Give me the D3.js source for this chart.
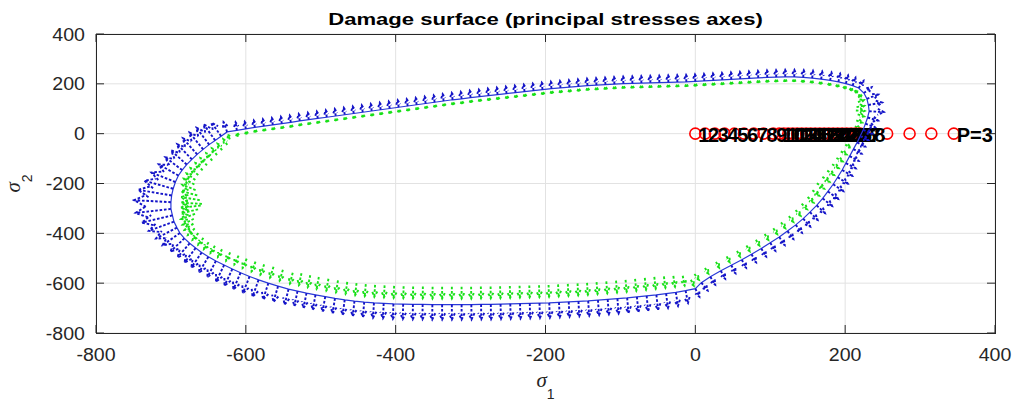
<!DOCTYPE html>
<html><head><meta charset="utf-8">
<script src="https://cdn.jsdelivr.net/npm/d3@7"></script>
<style>body{margin:0;background:#fff}text{font-family:"Liberation Sans",Arial,Helvetica,sans-serif}</style>
</head><body>
<svg id="chart" width="1015" height="403"></svg>
<script>
// ---------------- data ----------------
const xTicks = [-800,-600,-400,-200,0,200,400];
const yTicks = [-800,-600,-400,-200,0,200,400];
const titleText = "Damage surface (principal stresses axes)";

// damage surface points (sigma1, sigma2), clockwise from upper-left
const surfaceS1 = [
 -625,-612,-600,-588,-576,-564,-552,-540,-528,-516,-504,-492,-480,-468,-456,-444,-432,-420,-408,-396,-384,-372,-360,-348,-336,-324,-312,-300,-288,-276,-264,-252,-240,-228,-216,-204,-192,-180,-168,-156,-144,-132,-120,-108,-96,-84,-72,-60,-48,-36,-24,-12,0,12,24,36,48,60,72,84,96,108,120,132,
 144,156,168,180,191,201,210,218,225,229,231,232,230,227,224,220,216,211,206,201,196,190,184,
 177,170,162,153,144,134,123,112,100,88,75,62,48,34,20,8,0,
 -13,-26,-39,-52,-65,-78,-91,-104,-117,-130,-143,-156,-169,-182,-195,-208,-221,-234,-247,-260,-273,-286,-299,-312,-325,-338,-351,-364,-377,-390,-403,-416,-429,-442,-455,-468,-481,-494,-507,-519,-531,
 -543,-557,-570,-583,-595,-607,-618,-629,-640,-650,-659,-667,-675,-682,-688,-692,-696,-698,-700,-700,-699,-697,-694,
 -690,-685,-679,-672,-665,-657,-649,-641,-633
];
const surfaceS2 = [
 7,13,19,25,30,35,40,45,51,56,61,66,71,76,81,86,91,96,101,106,111,116,121,126,131,136,140,145,149,153,157,161,165,169,173,177,181,184,187,190,193,195,197,199,201,202,203,204,205,206,207,208,210,212,214,216,218,220,222,224,226,227,228,228,
 226,223,219,214,208,201,193,183,163,140,115,90,65,40,15,-10,-35,-62,-90,-118,-146,-175,-203,
 -232,-260,-288,-315,-341,-366,-391,-415,-438,-461,-484,-506,-528,-550,-574,-598,-622,
 -630,-637,-642,-647,-651,-655,-659,-662,-665,-668,-671,-673,-675,-677,-679,-680,-681,-682,-683,-684,-685,-685,-686,-686,-686,-686,-686,-685,-685,-684,-683,-681,-679,-676,-672,-667,-661,-654,-647,-640,-632,
 -624,-612,-600,-587,-573,-558,-543,-527,-511,-494,-477,-459,-440,-420,-399,-377,-353,-328,-302,-275,-248,-221,-194,
 -168,-146,-124,-103,-83,-63,-44,-27,-10
];
// quiver magnitudes (stress units) at each surface point
const blueMag = [
 40,33,29,
 28,28,28,28,28,28,28,28,28,28,
 28,28,28,28,28,28,28,28,28,28,
 28,28,28,28,28,28,28,28,28,28,
 28,28,28,28,28,28,28,28,28,28,
 28,28,28,28,28,28,28,28,28,28,
 28,28,28,28,28,28,28,28,28,28,
 28,
 29,30,31,32,33,33,32,30,26,23,21,20,19,19,19,19,20,21,23,25,27,29,31,
 33,33,33,33,33,33,33,33,33,33,33,33,33,33,33,33,33,
 50,55,58,
 60,60,60,60,60,60,60,60,60,60,
 60,60,60,60,60,60,60,60,60,60,
 60,60,60,60,60,60,60,60,60,60,
 60,60,60,60,60,60,60,60,
 62,64,66,68,68,68,68,68,66,64,62,60,58,56,54,52,50,50,50,50,50,50,50,
 52,56,60,64,68,70,70,66,56
];
const greenMag = [
 20,17,15,
 14,14,14,14,14,14,14,14,14,14,
 14,14,14,14,14,14,14,14,14,14,
 14,14,14,14,14,14,14,14,14,14,
 14,14,14,14,14,14,14,14,14,14,
 14,14,14,14,14,14,14,14,14,14,
 14,14,14,14,14,14,14,14,14,14,
 14,
 14,14,15,15,15,15,15,14,13,12,12,12,12,12,12,12,13,14,15,16,18,20,22,
 24,24,24,24,24,24,24,24,24,24,24,24,24,24,24,24,24,
 40,44,46,
 48,48,48,48,48,48,48,48,48,48,
 48,48,48,48,48,48,48,48,48,48,
 48,48,48,48,48,48,48,48,48,48,
 48,48,48,48,48,48,48,48,
 44,44,44,42,40,38,36,34,32,30,28,28,28,28,28,28,28,28,28,28,28,28,28,
 28,29,30,31,31,31,29,27,24
];
// load path points
const pathS1 = [0,13,26,39,52,65,78,91,104,112,118,124,130,136,142,148,154,160,166,172,178,184,190,196,202,208,214,220,256,286,315,345];
const pathS2 = [0,0,0,0,0,0,0,0,0,0,0,0,0,0,0,0,0,0,0,0,0,0,0,0,0,0,0,0,0,0,0,0];
const pathLabels = ["1","2","3","4","5","6","7","8","9","10","11","12","13","14","15","16","17","18","19","20","21","22","23","24","25","26","27","28","","","","P=3"];

// ---------------- drawing ----------------
const svg = d3.select("#chart");
const L = 96, R = 995, T = 34, B = 333;
const x = d3.scaleLinear().domain([-800,400]).range([L,R]);
const y = d3.scaleLinear().domain([-800,400]).range([B,T]);
const axisCol = "#262626";

function stext(g, tx, ty, str, size, opts={}) {
  return g.append("text")
    .attr("transform", `translate(${tx},${ty}) scale(${opts.sx||1},1)`)
    .attr("text-anchor", opts.anchor||"middle")
    .attr("font-size", size)
    .attr("font-weight", opts.weight||"normal")
    .attr("fill", opts.fill||axisCol)
    .text(str);
}

// grid
const grid = svg.append("g").attr("stroke","#e2e2e2").attr("stroke-width",1);
xTicks.forEach(t=>grid.append("line").attr("x1",x(t)).attr("x2",x(t)).attr("y1",T).attr("y2",B));
yTicks.forEach(t=>grid.append("line").attr("y1",y(t)).attr("y2",y(t)).attr("x1",L).attr("x2",R));

// quiver geometry
const kx = (x.domain()[1]-x.domain()[0])/(R-L);
const ky = (y.domain()[1]-y.domain()[0])/(B-T);
const pts = surfaceS1.map((s,i)=>[x(s), y(surfaceS2[i])]);
const n = pts.length;
const cx = d3.mean(pts,p=>p[0]), cy = d3.mean(pts,p=>p[1]);
function dataDir(i){
  const a = pts[(i-1+n)%n], b = pts[(i+1)%n];
  let tx=b[0]-a[0], ty=b[1]-a[1];
  const l=Math.hypot(tx,ty);
  let nx=ty/l, ny=-tx/l;
  if ((pts[i][0]-cx)*nx + (pts[i][1]-cy)*ny < 0) { nx=-nx; ny=-ny; }
  let du = nx*kx, dv = -ny*ky;
  const m = Math.hypot(du,dv);
  return [du/m, dv/m];
}
function arrowPath(x0,y0,x1,y1){
  const dx=x1-x0, dy=y1-y0, len=Math.hypot(dx,dy);
  if (len<0.5) return "";
  const ux=dx/len, uy=dy/len;
  const h = 0.3*len+2.5, a = 0.45;
  const c=Math.cos(a), s=Math.sin(a);
  const h1x = x1 - h*(ux*c - uy*s), h1y = y1 - h*(uy*c + ux*s);
  const h2x = x1 - h*(ux*c + uy*s), h2y = y1 - h*(uy*c - ux*s);
  return `M${x0},${y0}L${x1},${y1}M${h1x},${h1y}L${x1},${y1}L${h2x},${h2y}`;
}
const dirs = d3.range(n).map(dataDir);

// green quiver (inside the surface)
svg.append("g").attr("fill","none").attr("stroke","#18e018").attr("stroke-width",1.9)
  .attr("stroke-dasharray","2.6,1.8")
  .selectAll("path").data(d3.range(n)).join("path")
  .attr("d", i=>{
    const [du,dv]=dirs[i], m=greenMag[i];
    const s1=surfaceS1[i], s2=surfaceS2[i];
    return arrowPath(x(s1-1.5*m*du), y(s2-1.5*m*dv), x(s1-0.5*m*du), y(s2-0.5*m*dv));
  });

// load path circles + labels
svg.append("g").attr("fill","none").attr("stroke","#ff0000").attr("stroke-width",1.6)
  .selectAll("circle").data(pathS1).join("circle")
  .attr("cx",(d)=>x(d)).attr("cy",(d,i)=>y(pathS2[i])).attr("r",5.5);
const lab = svg.append("g");
pathS1.forEach((d,i)=>{
  if (!pathLabels[i]) return;
  lab.append("text").attr("x",x(d)+3).attr("y",y(pathS2[i])+8)
    .attr("font-size",20).attr("font-weight","bold").attr("fill","#000").text(pathLabels[i]);
});

// surface line
svg.append("path").datum(surfaceS1.map((s,i)=>[s,surfaceS2[i]]))
  .attr("fill","none").attr("stroke","#2a3ad8").attr("stroke-width",1.2)
  .attr("d", d3.line().x(d=>x(d[0])).y(d=>y(d[1])).curve(d3.curveLinearClosed));

// blue quiver (outside)
svg.append("g").attr("fill","none").attr("stroke","#1414c8").attr("stroke-width",1.9)
  .attr("stroke-dasharray","2.6,1.8")
  .selectAll("path").data(d3.range(n)).join("path")
  .attr("d", i=>{
    const [du,dv]=dirs[i], m=blueMag[i];
    const s1=surfaceS1[i], s2=surfaceS2[i];
    return arrowPath(x(s1), y(s2), x(s1+m*du), y(s2+m*dv));
  });

// axes box & ticks
const ax = svg.append("g").attr("stroke",axisCol).attr("stroke-width",1).attr("fill","none");
ax.append("rect").attr("x",L).attr("y",T).attr("width",R-L).attr("height",B-T).attr("shape-rendering","crispEdges");
const tl = 8;
xTicks.forEach(t=>{
  ax.append("line").attr("x1",x(t)).attr("x2",x(t)).attr("y1",B).attr("y2",B-tl);
  ax.append("line").attr("x1",x(t)).attr("x2",x(t)).attr("y1",T).attr("y2",T+tl);
});
yTicks.forEach(t=>{
  ax.append("line").attr("y1",y(t)).attr("y2",y(t)).attr("x1",L).attr("x2",L+tl);
  ax.append("line").attr("y1",y(t)).attr("y2",y(t)).attr("x1",R).attr("x2",R-tl);
});

// tick labels
const tg = svg.append("g");
xTicks.forEach(t=>stext(tg, x(t), 361, String(t), 17.5, {sx:1.12}));
yTicks.forEach(t=>stext(tg, L-11, y(t)+6.5, String(t), 17.5, {sx:1.12, anchor:"end"}));

// title
stext(svg, (L+R)/2, 25, titleText, 17, {sx:1.3, weight:"bold", fill:"#000"});

// axis labels
const xl = svg.append("text").attr("x",(L+R)/2).attr("y",387).attr("text-anchor","middle").attr("fill",axisCol);
xl.append("tspan").attr("font-family","'Liberation Serif','DejaVu Serif',serif").attr("font-style","italic").attr("font-size",21).text("σ");
xl.append("tspan").attr("font-size",14).attr("dy",12).text("1");
const yl = svg.append("text").attr("transform",`translate(20,${(T+B)/2}) rotate(-90)`).attr("text-anchor","middle").attr("fill",axisCol);
yl.append("tspan").attr("font-family","'Liberation Serif','DejaVu Serif',serif").attr("font-style","italic").attr("font-size",21).text("σ");
yl.append("tspan").attr("font-size",14).attr("dy",12).text("2");
</script>
</body></html>
